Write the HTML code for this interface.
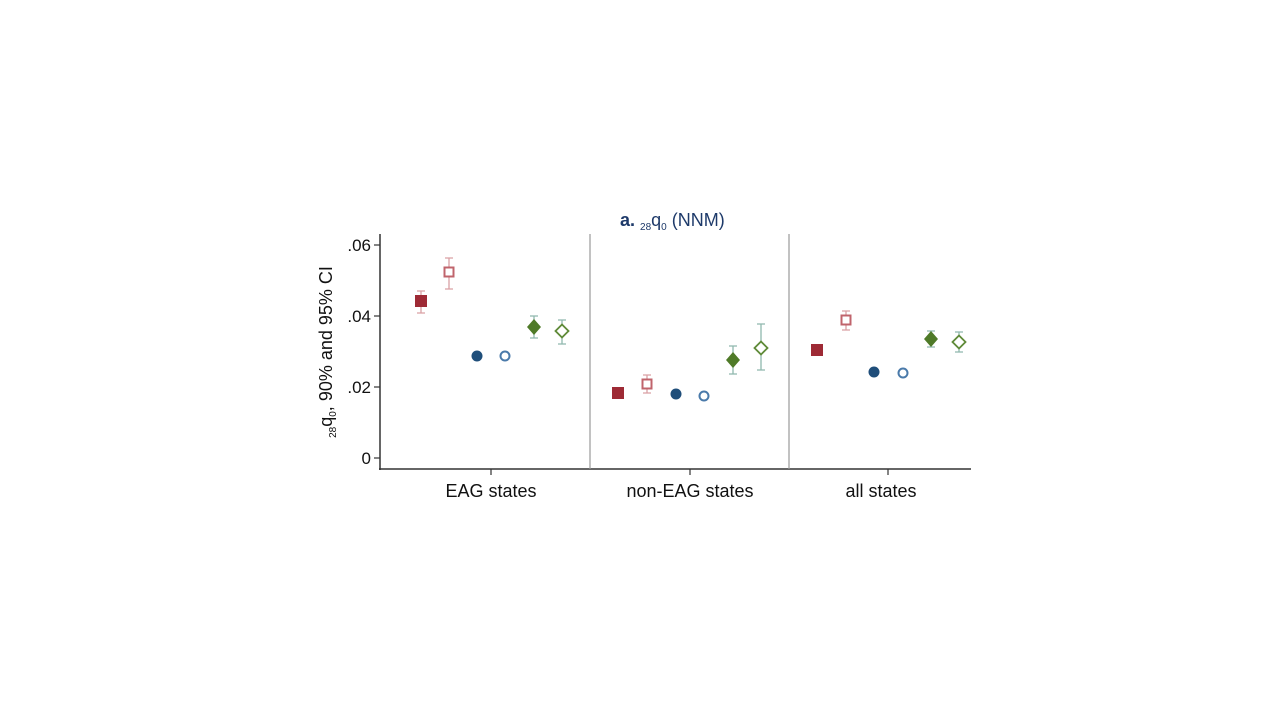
<!DOCTYPE html>
<html><head><meta charset="utf-8"><style>
body{margin:0;background:#fff;}
svg{display:block;font-family:"Liberation Sans",Arial,sans-serif;}
</style></head><body>
<svg width="1280" height="720" viewBox="0 0 1280 720">
<rect width="1280" height="720" fill="#fff"/>
<text x="620" y="226" font-size="18" fill="#1e3a6a"><tspan font-weight="bold">a.</tspan> <tspan font-size="10" dy="4">28</tspan><tspan dy="-4">q</tspan><tspan font-size="10" dy="4">0</tspan><tspan dy="-4"> (NNM)</tspan></text>
<line x1="380" y1="234" x2="380" y2="470" stroke="#333" stroke-width="1.5"/>
<line x1="379" y1="469" x2="971" y2="469" stroke="#333" stroke-width="1.5"/>
<line x1="590" y1="234" x2="590" y2="469" stroke="#999" stroke-width="1.2"/>
<line x1="789" y1="234" x2="789" y2="469" stroke="#999" stroke-width="1.2"/>
<g stroke="#333" stroke-width="1.2">
<line x1="374" y1="245" x2="380" y2="245"/><line x1="374" y1="316" x2="380" y2="316"/>
<line x1="374" y1="387" x2="380" y2="387"/><line x1="374" y1="458" x2="380" y2="458"/>
<line x1="491" y1="469" x2="491" y2="475"/><line x1="690" y1="469" x2="690" y2="475"/><line x1="888" y1="469" x2="888" y2="475"/>
</g>
<g font-size="17" fill="#111" text-anchor="end">
<text x="371" y="251">.06</text><text x="371" y="322">.04</text><text x="371" y="393">.02</text><text x="371" y="464">0</text>
</g>
<g font-size="18" fill="#111" text-anchor="middle">
<text x="491" y="497">EAG states</text><text x="690" y="497">non-EAG states</text><text x="881" y="497">all states</text>
</g>
<text transform="translate(332,352) rotate(-90)" font-size="18" fill="#111" text-anchor="middle"><tspan font-size="10" dy="4">28</tspan><tspan dy="-4">q</tspan><tspan font-size="10" dy="4">0</tspan><tspan dy="-4">, 90% and 95% CI</tspan></text>
<g stroke-width="1.3" fill="none">
<g stroke="#d9a0a4">
<path d="M421 291V313M417 291H425M417 313H425"/>
<path d="M449 258V289M445 258H453M445 289H453"/>
<path d="M647 375V393M643 375H651M643 393H651"/>
<path d="M846 311V330M842 311H850M842 330H850"/>
</g>
<g stroke="#8fb8ad">
<path d="M534 316V338M530 316H538M530 338H538"/>
<path d="M562 320V344M558 320H566M558 344H566"/>
<path d="M733 346V374M729 346H737M729 374H737"/>
<path d="M761 324V370M757 324H765M757 370H765"/>
<path d="M931 331V347M927 331H935M927 347H935"/>
<path d="M959 332V352M955 332H963M955 352H963"/>
</g>
</g>
<g fill="#9e2a35">
<rect x="415" y="295" width="12" height="12"/><rect x="612" y="387" width="12" height="12"/><rect x="811" y="344" width="12" height="12"/>
</g>
<g fill="#fff" stroke="#c0646c" stroke-width="2">
<rect x="444.5" y="267.5" width="9" height="9"/><rect x="642.5" y="379.5" width="9" height="9"/><rect x="841.5" y="315.5" width="9" height="9"/>
</g>
<g fill="#1f4e7a">
<circle cx="477" cy="356" r="5.5"/><circle cx="676" cy="394" r="5.5"/><circle cx="874" cy="372" r="5.5"/>
</g>
<g fill="#fff" stroke="#4a7aaa" stroke-width="2">
<circle cx="505" cy="356" r="4.5"/><circle cx="704" cy="396" r="4.5"/><circle cx="903" cy="373" r="4.5"/>
</g>
<g fill="#4f7a28">
<path d="M534 319L541 327L534 335L527 327Z"/><path d="M733 352L740 360L733 368L726 360Z"/><path d="M931 331L938 339L931 347L924 339Z"/>
</g>
<g fill="#fff" stroke="#5f8a38" stroke-width="1.8">
<path d="M562 324.5L568.5 331L562 337.5L555.5 331Z"/><path d="M761 341.5L767.5 348L761 354.5L754.5 348Z"/><path d="M959 335.5L965.5 342L959 348.5L952.5 342Z"/>
</g>
</svg>
</body></html>
